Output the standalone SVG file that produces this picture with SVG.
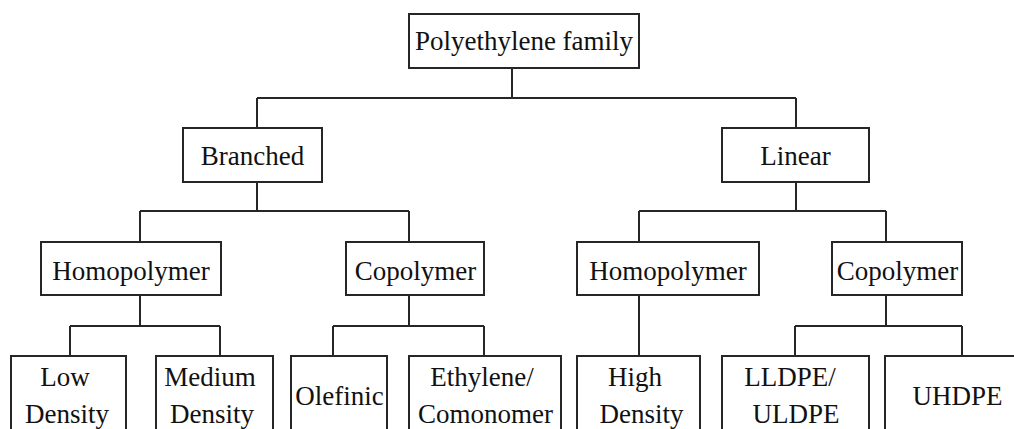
<svg xmlns="http://www.w3.org/2000/svg" width="1014" height="429" viewBox="0 0 1014 429">
<style>
.box{fill:#fff;stroke:#262626;stroke-width:2}
.ln{fill:none;stroke:#262626;stroke-width:2}
.t text{font-size:27px;fill:#111;text-anchor:middle}
</style>
<rect width="1014" height="429" fill="#fff"/>
<g id="connectors">
<path class="ln" d="M512,68 V98 M257,98 H796 M257,98 V128 M796,98 V128"/>
<path class="ln" d="M257,182 V211 M140,211 H409 M140,211 V242 M409,211 V242"/>
<path class="ln" d="M796,182 V211 M639,211 H886 M639,211 V242 M886,211 V242"/>
<path class="ln" d="M140,295 V326 M70,326 H220 M70,326 V356 M220,326 V356"/>
<path class="ln" d="M409,295 V326 M333,326 H484 M333,326 V356 M484,326 V356"/>
<path class="ln" d="M639,295 V356"/>
<path class="ln" d="M886,295 V326 M795,326 H962 M795,326 V356 M962,326 V356"/>
</g>
<g class="t" font-family="Liberation Serif, Times New Roman, DejaVu Serif, serif">
<g id="n-root"><rect class="box" x="409" y="14" width="230" height="54"/><text x="524" y="50">Polyethylene family</text></g>
<g id="n-branched"><rect class="box" x="183" y="128" width="139" height="54"/><text x="252.5" y="165">Branched</text></g>
<g id="n-linear"><rect class="box" x="722" y="128" width="147" height="54"/><text x="795.5" y="165">Linear</text></g>
<g id="n-b-homo"><rect class="box" x="41" y="242" width="180" height="53"/><text x="131" y="280">Homopolymer</text></g>
<g id="n-b-co"><rect class="box" x="346" y="242" width="138" height="53"/><text x="415.5" y="280">Copolymer</text></g>
<g id="n-l-homo"><rect class="box" x="577" y="242" width="182" height="53"/><text x="668" y="280">Homopolymer</text></g>
<g id="n-l-co"><rect class="box" x="832" y="242" width="130" height="53"/><text x="897.5" y="280">Copolymer</text></g>
<g id="n-low"><rect class="box" x="11" y="356" width="115" height="90"/><text x="65" y="386">Low</text><text x="67" y="423">Density</text></g>
<g id="n-medium"><rect class="box" x="156" y="356" width="117" height="90"/><text x="210" y="386">Medium</text><text x="212" y="423">Density</text></g>
<g id="n-olefinic"><rect class="box" x="291" y="356" width="96" height="90"/><text x="339.5" y="405">Olefinic</text></g>
<g id="n-ethylene"><rect class="box" x="409" y="356" width="152" height="90"/><text x="482" y="386">Ethylene/</text><text x="485.5" y="423">Comonomer</text></g>
<g id="n-high"><rect class="box" x="577" y="356" width="123" height="90"/><text x="635" y="386">High</text><text x="641.5" y="423">Density</text></g>
<g id="n-lldpe"><rect class="box" x="722" y="356" width="147" height="90"/><text x="790" y="386">LLDPE/</text><text x="796" y="423">ULDPE</text></g>
<g id="n-uhdpe"><rect class="box" x="885" y="356" width="150" height="90"/><text x="957.5" y="405">UHDPE</text></g>
</g>
</svg>
